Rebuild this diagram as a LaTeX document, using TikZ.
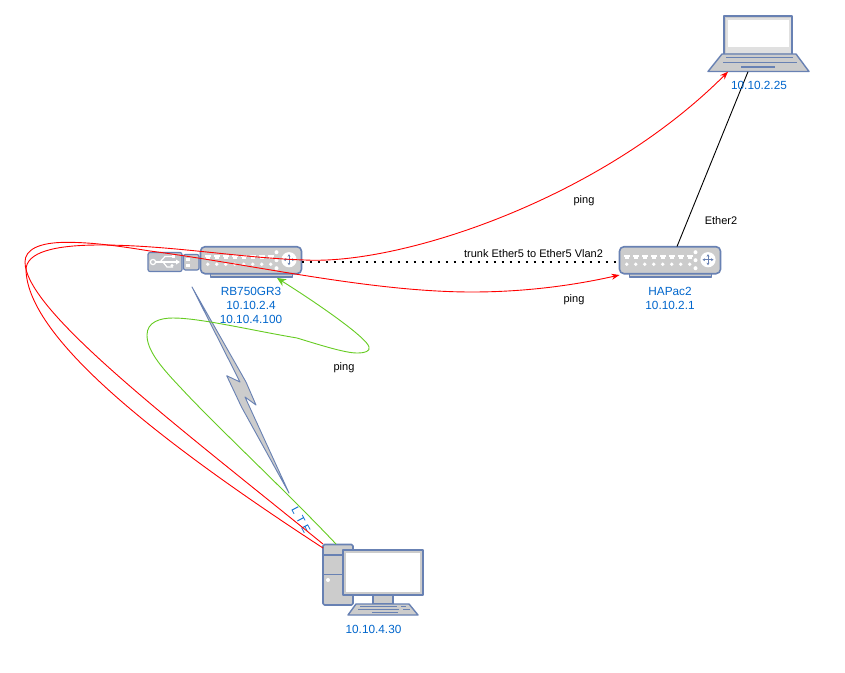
\documentclass[tikz,border=0pt]{standalone}
\usepackage{fontspec}
\setmainfont{Liberation Sans}
\usetikzlibrary{arrows.meta,calc}
\definecolor{dev}{HTML}{6881B3}
\definecolor{devfill}{HTML}{CCCCCC}
\definecolor{lbl}{HTML}{0066CC}
\definecolor{grn}{HTML}{66CC22}
\tikzset{
 x=1pt,y=-1pt,
 devshape/.style={draw=dev,fill=devfill,line width=1.6pt,line join=round},
 anchorbox/.style={inner sep=0pt,outer sep=0pt,rectangle},
 lab/.style={text=lbl,font=\fontsize{11.8}{14}\selectfont,align=center,inner sep=0pt},
 note/.style={text=black,font=\fontsize{11}{13}\selectfont,inner sep=0pt},
 redline/.style={draw=red,line width=0.9pt},
 redarrow/.style={redline,-{Stealth[length=8pt,width=6pt]}},
 grnarrow/.style={draw=grn,line width=0.9pt,-{Stealth[length=9pt,width=8pt]}},
 router/.pic={
  \draw[devshape] (10,26) rectangle (92,30.5);
  \draw[devshape,rounded corners=4.5pt] (0,0) rectangle (101,27);
  \foreach \i in {0,...,7} {
   \fill[white] (4+\i*9,8) rectangle (10.5+\i*9,10.5);
   \fill[white] (5.5+\i*9,10.5) rectangle (9+\i*9,12.5);
   \fill[white] (7.2+\i*9,17.5) circle[radius=1.9];
  }
  \foreach \y in {5.5,13.5,21.5} \fill[white] (76,\y) circle[radius=2];
  \fill[white] (88.5,13) circle[radius=7.6];
  \draw[dev,line width=1pt,{Stealth[length=2.5pt,width=3pt]}-{Stealth[length=2.5pt,width=3pt]}] (83,13) -- (94,13);
  \draw[dev,line width=1pt,{Stealth[length=2.5pt,width=3pt]}-{Stealth[length=2.5pt,width=3pt]}] (88.5,7.5) -- (88.5,18.5);
 }
}
\begin{document}
\begin{tikzpicture}
\useasboundingbox (0,0) rectangle (845,672);
\fill[white] (0,0) rectangle (845,672);

% anchors
\node[anchorbox,minimum width=101pt,minimum height=27pt] (rb) at (251,260) {};
\node[anchorbox,minimum width=101pt,minimum height=27pt] (hap) at (670,260) {};
\node[anchorbox,minimum width=101pt,minimum height=56pt] (lap) at (758.5,43.7) {};
\node[anchorbox,minimum width=100pt,minimum height=71pt] (pc) at (373,579.5) {};

% USB
\draw[devshape,fill=devfill!90!dev,line width=1.2pt,rounded corners=2pt] (148,252.5) rectangle (182,271.5);
\draw[white,line width=1.2pt] (155,262) -- (178,262);
\draw[white,line width=1.2pt] (160,262) -- (165,256.5) -- (172,256.5);
\draw[white,line width=1.2pt] (163,262) -- (167,267) -- (173,267);
\draw[white,line width=1.2pt] (153,262) circle[radius=2.6];
\fill[white] (172,255) rectangle (175,258);
\fill[white] (172,265.5) circle[radius=1.6];
\fill[white] (176,259.5) -- (180,262) -- (176,264.5) -- cycle;
\draw[devshape,line width=1.2pt,rounded corners=2pt] (183.5,254.5) rectangle (199,270);
\fill[white] (186,258) rectangle (190,261);
\fill[white] (186,264) rectangle (190,267);

% Devices
\pic at (200.5,246.7) {router};
\pic at (619.5,246.7) {router};

% Laptop
\draw[devshape] (724,54) -- (724,15.7) -- (792,15.7) -- (792,54);
\fill[devfill!60!white] (725.5,17.5) rectangle (790.5,53);
\fill[white] (728,19.5) rectangle (789,47);
\draw[devshape,line width=1.4pt] (722,54) -- (796,54) -- (809,71.5) -- (708,71.5) -- cycle;
\draw[dev,line width=1.4pt] (726,57.5) -- (793,57.5);
\draw[dev,line width=1.4pt] (723,62.5) -- (797,62.5);
\draw[dev,line width=1.8pt] (741,66.8) -- (775,66.8);

% PC
\draw[devshape,rounded corners=1.5pt] (323,544.5) rectangle (353,605);
\draw[dev,line width=1.6pt] (323,555) -- (343,555);
\draw[dev,line width=1.6pt] (323,574.5) -- (343,574.5);
\fill[white] (328,580) circle[radius=2];
\draw[devshape] (373,595) rectangle (393,604);
\draw[devshape] (343,550) rectangle (423,595);
\fill[white] (346,553) rectangle (420,592);
\draw[devshape,line width=1.4pt] (356,604) -- (409,604) -- (418,615) -- (348,615) -- cycle;
\draw[dev,line width=1.2pt] (360,606.5) -- (397,606.5);
\draw[dev,line width=1.2pt] (401,606.5) -- (406,606.5);
\draw[dev,line width=1.2pt] (358,609.5) -- (399,609.5);
\draw[dev,line width=1.2pt] (403,609.5) -- (410,609.5);
\draw[dev,line width=1.2pt] (372,612.7) -- (398,612.7);

% LTE link (flash shape)
\filldraw[draw=dev,fill=devfill,line width=0.9pt,line join=round] (192,287) -- (246,382) -- (256,405) -- (245,397) -- (289,493) -- (241.5,407) -- (226.7,375.7) -- (240,382) -- cycle;
\node[text=lbl,font=\fontsize{11}{12}\selectfont,rotate=-62,inner sep=0pt] (lte) at (301,520) {L\hspace{4pt}T\hspace{4pt}E};

% Connectors
\draw[black,line width=2pt,dash pattern=on 2pt off 6pt] ([yshift=-2pt]rb.east) -- ([yshift=-2pt]hap.west);
\draw[black,line width=0.9pt] ([xshift=7pt]hap.north) -- ([xshift=-10.5pt]lap.south);
\draw[redarrow] (pc.north west) .. controls (170,420) and (25,310) .. (25,262) .. controls (25,250) and (38,242.3) .. (67,242.3) .. controls (95,242.3) and (125,247) .. (150,251) .. controls (250,264) and (370,292) .. (472,292) .. controls (530,292) and (580,284) .. ([yshift=-15pt]hap.west);
\draw[redarrow] ([yshift=-4pt]pc.north west) .. controls (165,445) and (28,340) .. (26,270) .. controls (26,252) and (55,245) .. (100,245) .. controls (170,245) and (240,258) .. (305,260) .. controls (400,265) and (600,200) .. ([xshift=20pt]lap.south west);
\draw[grnarrow] ([xshift=13pt]pc.north west) .. controls (285,490) and (215,425) .. (180,387) .. controls (160,366) and (147,350) .. (147,335) .. controls (147,322) and (160,318) .. (173,318) .. controls (200,318) and (250,330) .. (297,338) .. controls (320,345) and (345,353) .. (357,353) .. controls (366,353) and (370,351) .. (369,347) .. controls (367,338) and (320,305) .. ([xshift=26pt,yshift=-4.5pt]rb.south);

% Labels
\node[lab] (rbl) at (251,305) {RB750GR3\\10.10.2.4\\10.10.4.100};
\node[lab] (hapl) at (670,298.5) {HAPac2\\10.10.2.1};
\node[lab] (lapl) at (759,85.5) {10.10.2.25};
\node[lab] (pcl) at (373.5,629) {10.10.4.30};
\node[note] (p1) at (584,200.5) {ping};
\node[note] (p2) at (574,300) {ping};
\node[note] (p3) at (344,368) {ping};
\node[note] (eth) at (721,220.5) {Ether2};
\node[note] (trk) at (533.5,253.5) {trunk Ether5 to Ether5 Vlan2};
\end{tikzpicture}
\end{document}
